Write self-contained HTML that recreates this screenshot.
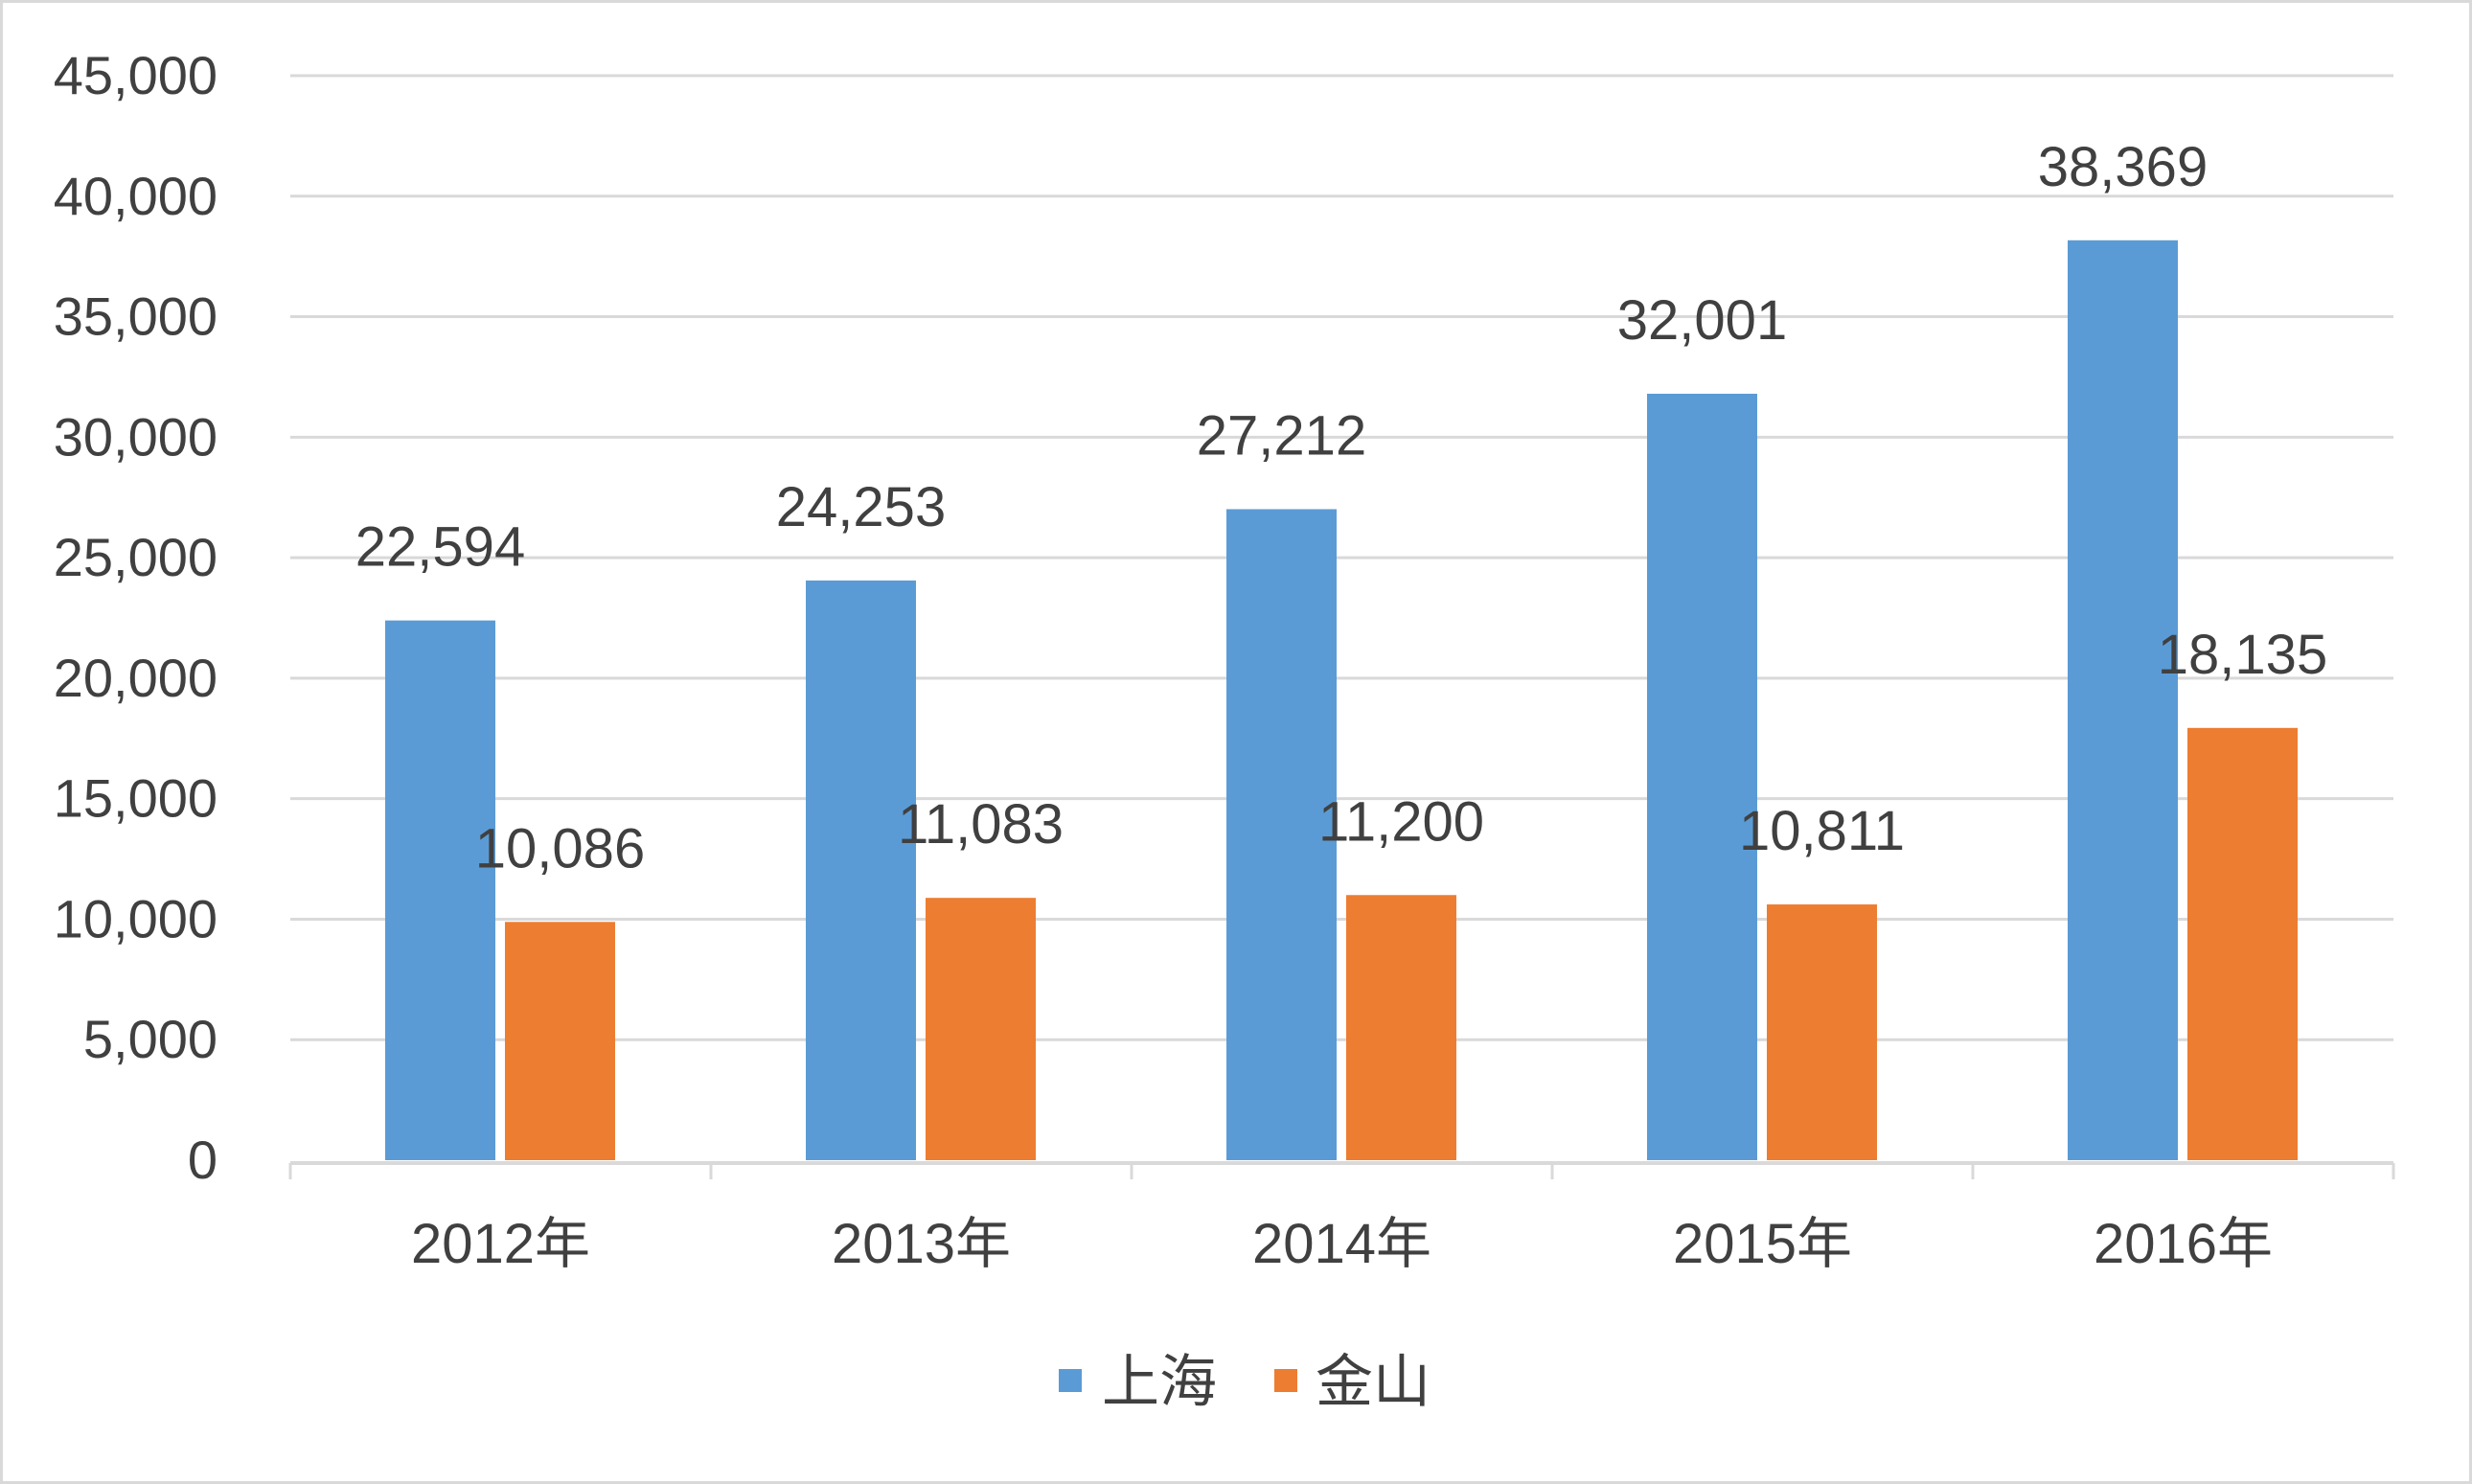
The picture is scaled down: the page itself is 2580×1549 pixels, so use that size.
<!DOCTYPE html>
<html><head><meta charset="utf-8"><style>
html,body{margin:0;padding:0;background:#fff}
svg{display:block}
text{font-family:"Liberation Sans","Noto Sans CJK SC",sans-serif;fill:#404040}
</style></head><body>
<svg id="chart" width="2580" height="1549" viewBox="0 0 2580 1549">
<rect x="1.5" y="1.5" width="2577" height="1546" fill="#fff" stroke="#d9d9d9" stroke-width="3"/>
<g id="grid"></g><g id="bars"></g><g id="labels"></g>
<g>
<rect x="1105" y="1429" width="24" height="24" fill="#5b9bd5"/>
<text x="1150" y="1463" font-size="60">上海</text>
<rect x="1330" y="1429" width="24" height="24" fill="#ed7d31"/>
<text x="1373" y="1463" font-size="60">金山</text>
</g>
</svg>
<script>
const categories=["2012年","2013年","2014年","2015年","2016年"];
const shanghai=[22594,24253,27212,32001,38369];
const jinshan=[10086,11083,11200,10811,18135];
const yTicks=[0,5000,10000,15000,20000,25000,30000,35000,40000,45000];
const NS="http://www.w3.org/2000/svg";
const L=303,R=2498,Y0=1211,Y1=79,YMAX=45000;
const y=v=>Y0-(Y0-Y1)*v/YMAX;
const bw=(R-L)/categories.length;
const x=i=>L+bw*i;
function mk(tag,attrs,parent,txt){const e=document.createElementNS(NS,tag);for(const k in attrs)e.setAttribute(k,attrs[k]);if(txt!=null)e.textContent=txt;document.getElementById(parent).appendChild(e);return e;}
const fmt=v=>v.toLocaleString('en-US');
yTicks.forEach(t=>{
 if(t>0){const g=mk('line',{x1:L,x2:R,y1:y(t),y2:y(t),stroke:'#d9d9d9','stroke-width':3},'grid');
 
 }
 const tl=mk('text',{x:227,y:y(t)+19,'text-anchor':'end','font-size':56},'labels',fmt(t));
 
 
});
const ax=mk('line',{x1:L,x2:R,y1:Y0+3,y2:Y0+3,stroke:'#d9d9d9','stroke-width':4},'grid');


for(let i=0;i<=categories.length;i++){
 const tk=mk('line',{x1:x(i),x2:x(i),y1:Y0+3,y2:Y0+20,stroke:'#d9d9d9','stroke-width':3},'grid');
 
 
}
const BW=115,GAP=10,OFF=99;
categories.forEach((c,i)=>{
 const bx=x(i)+OFF, ox=bx+BW+GAP;
 const b=mk('rect',{x:bx,y:y(shanghai[i])+5,width:BW,height:Y0-y(shanghai[i])-5,fill:'#5b9bd5'},'bars');
 
 
 const o=mk('rect',{x:ox,y:y(jinshan[i])+5,width:BW,height:Y0-y(jinshan[i])-5,fill:'#ed7d31'},'bars');
 
 
 const l1=mk('text',{x:bx+BW/2,y:y(shanghai[i])-52,'text-anchor':'middle','font-size':58},'labels',fmt(shanghai[i]));
 
 
 const l2=mk('text',{x:ox+BW/2,y:y(jinshan[i])-52,'text-anchor':'middle','font-size':58},'labels',fmt(jinshan[i]));
 
 
 const cl=mk('text',{x:x(i)+bw/2,y:1318,'text-anchor':'middle','font-size':58},'labels',c);
 
 
});
</script>
</body></html>
